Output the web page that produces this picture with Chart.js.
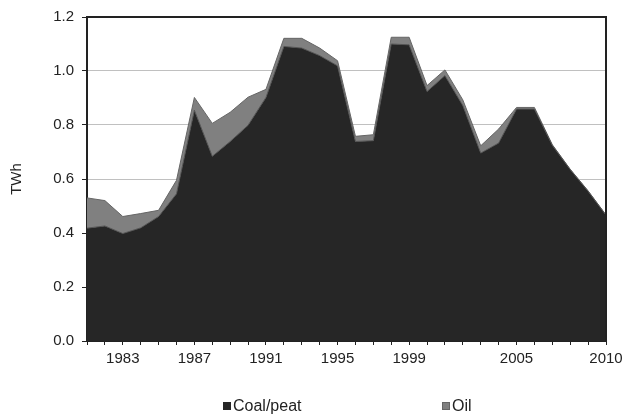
<!DOCTYPE html>
<html>
<head>
<meta charset="utf-8">
<script src="https://cdn.jsdelivr.net/npm/chart.js@4/dist/chart.umd.min.js"></script>
<style>
    body { margin: 0; background: #fff; }
    #wrap { position: relative; width: 623px; height: 417px; }
    .legend-item { position: absolute; top: 398px; font: 16px "Liberation Sans", Arial, sans-serif; color: #222; line-height: 16px; }
    .legend-item span { display: inline-block; width: 8px; height: 8px; margin-right: 2px; vertical-align: 1px; }
</style>
</head>
<body>
<div id="wrap">
    <canvas id="energyChart" width="623" height="417"></canvas>
    <div class="legend-item" style="left:223px"><span style="background:#262626"></span>Coal/peat</div>
    <div class="legend-item" style="left:442px"><span style="background:#808080;box-shadow:inset 0 0 0 1px #666"></span>Oil</div>
</div>
<script>
// Electricity generation by fuel, TWh
const years = [1981, 1982, 1983, 1984, 1985, 1986, 1987, 1988, 1989, 1990,
    1991, 1992, 1993, 1994, 1995, 1996, 1997, 1998, 1999, 2000,
    2001, 2002, 2003, 2004, 2005, 2006, 2007, 2008, 2009, 2010];
const coalPeat = [0.418, 0.426, 0.398, 0.419, 0.461, 0.545, 0.855, 0.684, 0.739, 0.799,
    0.902, 1.091, 1.085, 1.057, 1.019, 0.739, 0.742, 1.100, 1.097, 0.924,
    0.983, 0.872, 0.696, 0.733, 0.859, 0.859, 0.725, 0.635, 0.555, 0.466];
const oil = [0.112, 0.094, 0.063, 0.053, 0.023, 0.050, 0.047, 0.122, 0.108, 0.104,
    0.030, 0.030, 0.036, 0.028, 0.019, 0.019, 0.022, 0.025, 0.028, 0.022,
    0.021, 0.021, 0.027, 0.052, 0.006, 0.006, 0.002, 0.001, 0.001, 0.001];
const shownYears = ['1983', '1987', '1991', '1995', '1999', '2005', '2010'];
const yTicks = [0, 0.2, 0.4, 0.6, 0.8, 1.0, 1.2];

const fontFamily = '"Liberation Sans", Arial, sans-serif';

// frame around the plot area (top and right edges)
const framePlugin = {
    id: 'frame',
    afterDraw: function(chart) {
        const a = chart.chartArea;
        const ctx = chart.ctx;
        ctx.save();
        ctx.strokeStyle = '#222';
        ctx.lineWidth = 2;
        ctx.beginPath();
        ctx.moveTo(a.left, a.top);
        ctx.lineTo(a.right, a.top);
        ctx.lineTo(a.right, a.bottom);
        ctx.stroke();
        ctx.restore();
    }
};

const ctx = document.getElementById('energyChart');
const chart = new Chart(ctx, {
    type: 'line',
    data: {
        labels: years.map(String),
        datasets: [{
            label: 'Coal/peat',
            data: coalPeat,
            backgroundColor: '#262626',
            borderColor: '#555',
            borderWidth: 1,
            fill: 'origin',
            pointRadius: 0,
            tension: 0
        }, {
            label: 'Oil',
            data: oil,
            backgroundColor: '#808080',
            borderColor: '#666',
            borderWidth: 1,
            fill: '-1',
            pointRadius: 0,
            tension: 0
        }]
    },
    options: {
        responsive: false,
        animation: false,
        layout: { padding: { left: 0, top: 16, right: 17, bottom: 0 } },
        plugins: {
            legend: { display: false },
            tooltip: { enabled: false }
        },
        scales: {
            x: {
                offset: false,
                grid: { display: true, drawOnChartArea: false, tickLength: 4, color: '#222' },
                border: { color: '#222', width: 1 },
                ticks: {
                    autoSkip: false,
                    maxRotation: 0,
                    padding: 5,
                    color: '#222',
                    font: { family: fontFamily, size: 15 },
                    callback: function(value) {
                        const lab = this.getLabelForValue(value);
                        return shownYears.includes(lab) ? lab : '';
                    }
                },
                afterFit: function(scale) {
                    scale.height = 76;
                    scale.paddingLeft = 0;
                    scale.paddingRight = 0;
                }
            },
            y: {
                stacked: true,
                min: 0,
                max: 1.2,
                afterBuildTicks: function(scale) {
                    scale.ticks = yTicks.map(function(v) { return { value: v }; });
                },
                grid: { color: '#c0c0c0', tickColor: '#222', tickLength: 5 },
                border: { color: '#222', width: 2 },
                ticks: {
                    padding: 8,
                    color: '#222',
                    font: { family: fontFamily, size: 15 },
                    callback: function(v) { return v.toFixed(1); }
                },
                title: {
                    display: true,
                    text: 'TWh',
                    color: '#222',
                    padding: { top: 8, bottom: 0 },
                    font: { family: fontFamily, size: 15 }
                },
                afterFit: function(scale) { scale.width = 87; }
            }
        }
    },
    plugins: [framePlugin]
});
</script>
</body>
</html>
